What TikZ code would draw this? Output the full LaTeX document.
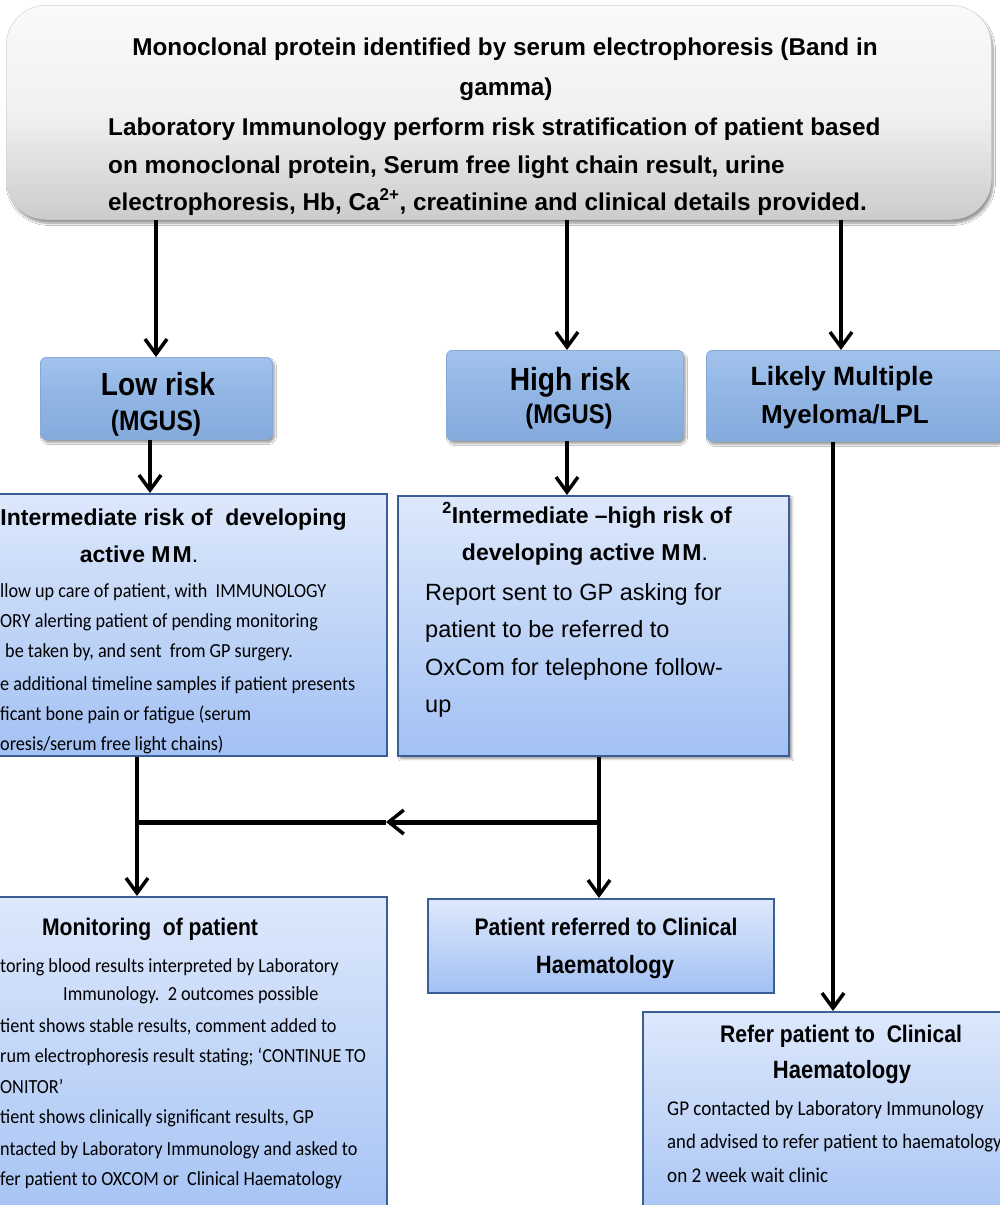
\documentclass[tikz,border=0pt]{standalone}
\usepackage{fontspec}
\setmainfont{Liberation Sans}
\newfontfamily\narfont[FakeStretch=0.88]{Liberation Sans}
\newfontfamily\calfnt[FakeStretch=0.91]{Carlito}
\usetikzlibrary{arrows.meta,shadows.blur}
\newcommand\fsz[1]{\fontsize{#1}{#1}\selectfont}
\definecolor{bxtop}{HTML}{DDE8FB}
\definecolor{bxbot}{HTML}{A3C1F4}
\definecolor{bxline}{HTML}{3A5F95}
\definecolor{rtop}{HTML}{A2C2EC}
\definecolor{rmid}{HTML}{90B5E4}
\definecolor{rbot}{HTML}{84AADC}
\definecolor{redge}{HTML}{86A9D6}
\begin{document}
\begin{tikzpicture}[x=1pt,y=-1pt,
  txt/.style={inner sep=0pt, anchor=base},
  txtl/.style={inner sep=0pt, anchor=base west},
  txtr/.style={inner sep=0pt, anchor=base east},
  topfont/.style={font=\bfseries\fsz{24.3}},
  calfont/.style={font=\calfnt\fsz{20}},
  cbox/.style={draw=bxline, line width=1.5pt, top color=bxtop, bottom color=bxbot, anchor=north west, inner sep=0pt},
  rbox/.style={draw=redge, line width=0.8pt, top color=rtop, bottom color=rbot, middle color=rmid, rounded corners=6pt, anchor=north west, inner sep=0pt,
    blur shadow={shadow xshift=2pt, shadow yshift=-3pt, shadow blur steps=6}},
  arr/.style={line width=4pt, -{Straight Barb[length=15pt,width=22pt,line width=3.5pt]}},
  plain/.style={line width=5pt}
]
\useasboundingbox (0,0) rectangle (999,1205);
\fill[white] (0,0) rectangle (999,1205);

% top box
\node[anchor=north west, inner sep=0pt, minimum width=985pt, minimum height=214pt, rounded corners=40pt,
  draw=gray!35, line width=0.5pt, top color=gray!4, bottom color=gray!40, middle color=gray!11,
  blur shadow={shadow xshift=2pt, shadow yshift=-4pt, shadow blur steps=8}] (top) at (6,5) {};

% risk boxes
\node[rbox, minimum width=232pt, minimum height=82pt] (low) at (40,357) {};
\node[rbox, minimum width=237pt, minimum height=90pt] (high) at (446,350) {};
\node[rbox, minimum width=300pt, minimum height=91pt] (mm) at (706,350) {};

% content boxes
\node[cbox, minimum width=426pt, minimum height=262pt] (inter) at (-40,493) {};
\node[cbox, minimum width=391pt, minimum height=260pt,
  blur shadow={shadow xshift=3pt, shadow yshift=-3pt, shadow blur steps=6}] (hi2) at (397,495) {};
\node[cbox, minimum width=426pt, minimum height=340pt] (mon) at (-40,896) {};
\node[cbox, minimum width=346pt, minimum height=94pt] (pref) at (427,898) {};
\node[cbox, minimum width=400pt, minimum height=230pt] (ref2) at (642,1011) {};

% connector x positions
\coordinate (xa) at (156,0);
\coordinate (xb) at (567,0);
\coordinate (xc) at (841,0);
\coordinate (xd) at (150,0);
\coordinate (xe) at (833,0);
\coordinate (xf) at (137,0);
\coordinate (xg) at (599,0);
\coordinate (hr) at (599,822);
\coordinate (hm) at (386,822);
\coordinate (hl) at (135,822);

\draw[arr] (top.south -| xa) -- (low.north -| xa);
\draw[arr] (top.south -| xb) -- (high.north -| xb);
\draw[arr] (top.south -| xc) -- (mm.north -| xc);
\draw[arr] (low.south -| xd) -- (inter.north -| xd);
\draw[arr] (high.south -| xb) -- (hi2.north -| xb);
\draw[arr] (mm.south -| xe) -- (ref2.north -| xe);
\draw[arr] (inter.south -| xf) -- (mon.north -| xf);
\draw[arr] (hi2.south -| xg) -- (pref.north -| xg);
\draw[plain, -{Straight Barb[length=15pt,width=24pt,line width=3.5pt]}] (hr) -- (hm);
\draw[plain] (hm) -- (hl);

% top text
\node[txt, topfont] (t1) at (505,55) {Monoclonal protein identified by serum electrophoresis (Band in};
\node[txt, topfont] (t2) at (506,95) {gamma)};
\node[txtl, topfont] (t3) at (108,135) {Laboratory Immunology perform risk stratification of patient based};
\node[txtl, topfont] (t4) at (108,173) {on monoclonal protein, Serum free light chain result, urine};
\node[txtl, topfont] (t5) at (108,210) {electrophoresis, Hb, Ca\textsuperscript{2+}, creatinine and clinical details provided.};

% risk texts
\node[txt, font=\narfont\bfseries\fsz{32}] (lowa) at (158,395) {Low risk};
\node[txt, font=\narfont\bfseries\fsz{28}] (lowb) at (156,430) {(MGUS)};
\node[txt, font=\narfont\bfseries\fsz{32}] (higha) at (570,390) {High risk};
\node[txt, font=\narfont\bfseries\fsz{27}] (highb) at (569,423) {(MGUS)};
\node[txt, font=\bfseries\fsz{26.5}] (mma) at (842,385) {Likely Multiple};
\node[txt, font=\bfseries\fsz{26}] (mmb) at (845,423) {Myeloma/LPL};

% intermediate (low risk branch)
\node[txtr, font=\bfseries\fsz{23}] (ia) at (347,525) {Intermediate risk of\ \ developing};
\node[txt, font=\bfseries\fsz{23}] (ib) at (139,562) {active M\kern2pt M\mdseries.};
\node[txtl, calfont] (ic) at (0,597) {llow up care of patient, with\ \ IMMUNOLOGY};
\node[txtl, calfont] (id) at (0,627) {ORY alerting patient of pending monitoring};
\node[txtl, calfont] (ie) at (5,657) {be taken by, and sent\ \ from GP surgery.};
\node[txtl, calfont] (if) at (0,690) {e additional timeline samples if patient presents};
\node[txtl, calfont] (ig) at (0,720) {ficant bone pain or fatigue (serum};
\node[txtl, calfont] (ih) at (0,750) {oresis/serum free light chains)};

% intermediate-high
\node[txt, font=\bfseries\fsz{23}] (ha) at (587,523) {\textsuperscript{2}Intermediate –high risk of};
\node[txt, font=\bfseries\fsz{23}] (hb) at (585,560) {developing active M\kern2pt M\mdseries.};
\node[txtl, font=\fsz{23.5}] (hc) at (425,600) {Report sent to GP asking for};
\node[txtl, font=\fsz{23.5}] (hd) at (425,637) {patient to be referred to};
\node[txtl, font=\fsz{23.5}] (he) at (425,675) {OxCom for telephone follow-};
\node[txtl, font=\fsz{23.5}] (hf) at (425,712) {up};

% monitoring
\node[txt, font=\narfont\bfseries\fsz{24}] (ma) at (150,935) {Monitoring\ \ of patient};
\node[txtl, calfont] (mb) at (0,972) {toring blood results interpreted by Laboratory};
\node[txtl, calfont] (mc) at (63,1000) {Immunology.\ \ 2 outcomes possible};
\node[txtl, calfont] (md) at (0,1032) {tient shows stable results, comment added to};
\node[txtl, calfont] (me) at (0,1062) {rum electrophoresis result stating; ‘CONTINUE TO};
\node[txtl, calfont] (mf) at (0,1093) {ONITOR’};
\node[txtl, calfont] (mg) at (0,1123) {tient shows clinically significant results, GP};
\node[txtl, calfont] (mh) at (0,1155) {ntacted by Laboratory Immunology and asked to};
\node[txtl, calfont] (mi) at (0,1185) {fer patient to OXCOM or\ \ Clinical Haematology};

% patient referred
\node[txt, font=\narfont\bfseries\fsz{24}] (pa) at (606,935) {Patient referred to Clinical};
\node[txt, font=\narfont\bfseries\fsz{25}] (pb) at (605,973) {Haematology};

% refer patient
\node[txt, font=\narfont\bfseries\fsz{24}] (ra) at (841,1042) {Refer patient to\ \ Clinical};
\node[txt, font=\narfont\bfseries\fsz{25}] (rb) at (842,1078) {Haematology};
\node[txtl, font=\calfnt\fsz{21}] (rc) at (667,1115) {GP contacted by Laboratory Immunology};
\node[txtl, font=\calfnt\fsz{20.6}] (rd) at (667,1148) {and advised to refer patient to haematology};
\node[txtl, font=\calfnt\fsz{21}] (re) at (667,1182) {on 2 week wait clinic};
\end{tikzpicture}
\end{document}
